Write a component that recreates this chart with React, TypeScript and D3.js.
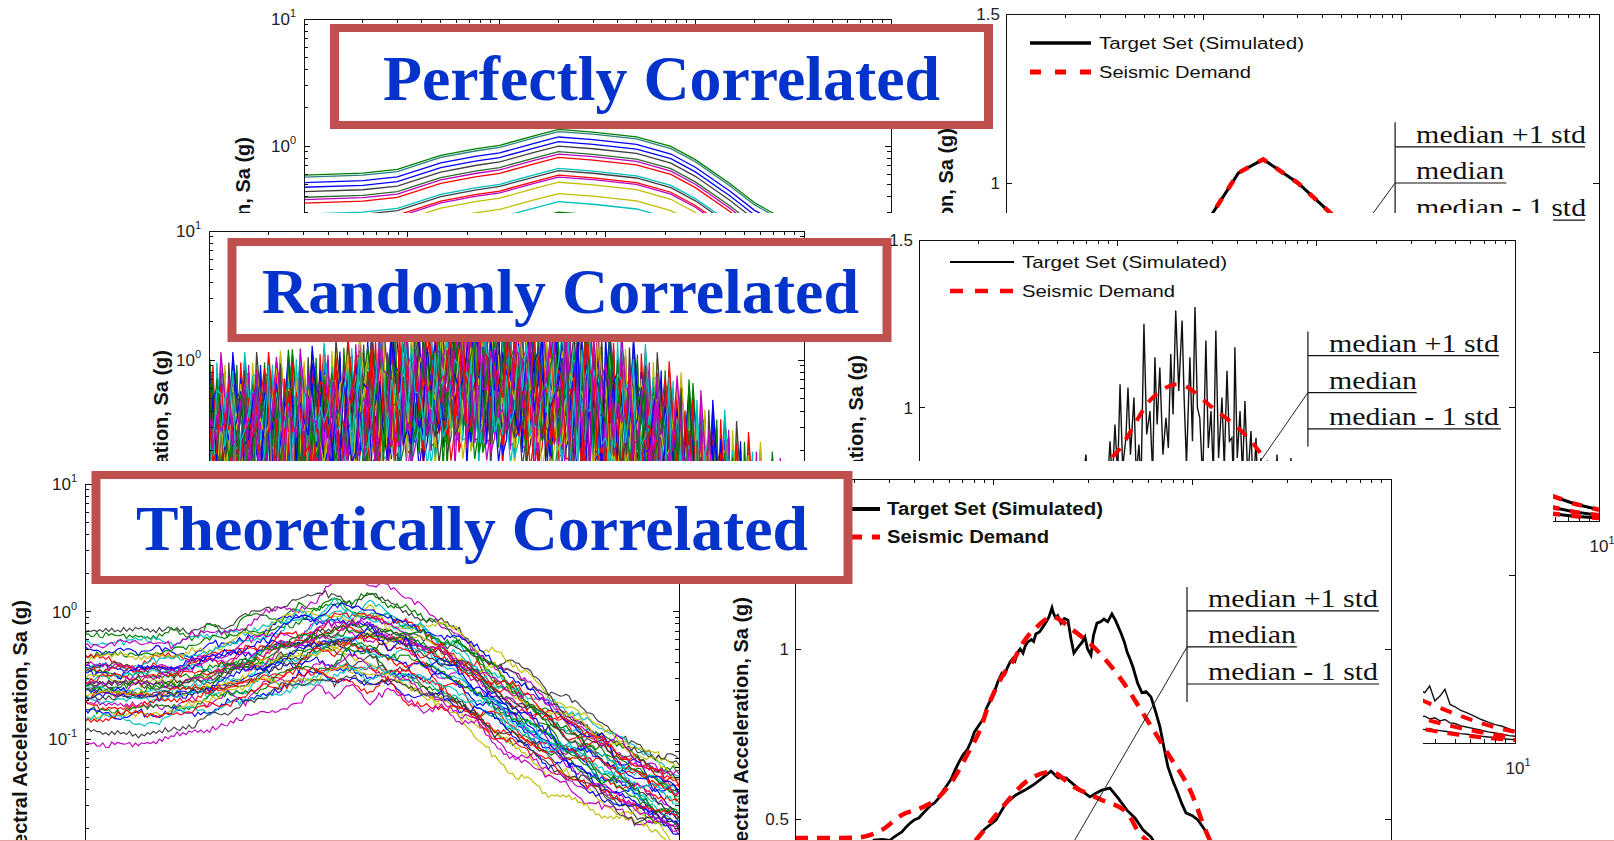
import React from 'react';
import * as d3 from 'd3';

const FONT_SANS = "'Liberation Sans', Arial, Helvetica, sans-serif";
const FONT_SERIF = "'Liberation Serif', 'Times New Roman', Times, serif";
const BOX_RED = '#C0504D';
const TITLE_BLUE = '#0433cc';
const MATLAB = ['#0000ff', '#008000', '#ff0000', '#00bfbf', '#bf00bf', '#bfbf00', '#404040'];

// ---------- data ----------
const PERIODS = [0.01, 0.02, 0.03, 0.05, 0.075, 0.1, 0.15, 0.2, 0.3, 0.5, 0.75, 1, 1.5, 2, 3, 4, 5, 7.5, 10];

// Perfectly correlated spectra (panel A): base shape and per-record scale factors
const PERFECT_BASE = [0.28, 0.29, 0.31, 0.4, 0.45, 0.48, 0.57, 0.64, 0.61, 0.56, 0.47, 0.37, 0.24, 0.17, 0.12, 0.085, 0.065, 0.04, 0.028];
const PERFECT_FACTORS = [2.11, 2.03, 1.84, 1.69, 1.56, 1.41, 1.35, 1.27, 1.04, 1.0, 0.92, 0.89, 0.81, 0.66, 0.57, 0.47, 0.41, 0.36, 0.31, 0.27, 0.23, 0.2, 0.17, 0.15];
const PERFECT_COLORS = ['#008000', '#2a7f7f', '#0000ff', '#0000ff', '#404040', '#2e6b2e', '#bf00bf', '#ff0000', '#00bfbf', '#404040', '#ff0000', '#bf00bf', '#bfbf00', '#bfbf00', '#00bfbf', '#008000', '#0000ff', '#ff0000', '#bf00bf', '#404040', '#00bfbf', '#bfbf00', '#008000', '#0000ff'];

// Seismic demand (median +/- 1 std)
const DEMAND_HI = [0.5, 0.5, 0.54, 0.67, 0.8, 0.87, 1.03, 1.07, 1.0, 0.88, 0.71, 0.57, 0.4, 0.27, 0.147, 0.11, 0.087, 0.051, 0.033];
const DEMAND_MED = [0.29, 0.29, 0.31, 0.38, 0.45, 0.49, 0.6, 0.64, 0.59, 0.5, 0.4, 0.32, 0.22, 0.15, 0.085, 0.062, 0.048, 0.027, 0.017];
const DEMAND_LO = [0.167, 0.167, 0.177, 0.215, 0.252, 0.277, 0.35, 0.384, 0.347, 0.286, 0.226, 0.179, 0.121, 0.082, 0.049, 0.035, 0.026, 0.0144, 0.0089];

// Randomly correlated spectra (panel B)
const RANDOM_MED = [0.28, 0.28, 0.3, 0.37, 0.45, 0.5, 0.6, 0.64, 0.6, 0.52, 0.45, 0.38, 0.27, 0.19, 0.1, 0.07, 0.05, 0.03, 0.022];
const RANDOM_SIG = [0.6, 0.6, 0.6, 0.6, 0.6, 0.6, 0.6, 0.6, 0.6, 0.62, 0.65, 0.68, 0.7, 0.72, 0.75, 0.75, 0.75, 0.75, 0.75];
const Z_TABLE = [0.31, -1.22, 0.84, -0.41, 1.63, -0.92, 0.12, 2.05, -1.71, 0.58, -0.23, 1.12, -1.38, 0.91, -0.64, 0.37, -2.18, 1.29, -0.08, 0.72, -1.03, 1.81, -0.52, 0.19, -1.49, 0.98, -0.31, 0.49, -0.83, 2.36, -1.12, 0.03, 1.41, -0.69, 0.77, -1.88, 0.28, 1.19, -0.44, -1.31, 0.63, 1.72, -0.95, 0.09, -0.18, 1.52, -1.62, 0.88, -0.47, 0.42, -1.01, 1.97, -0.12, -1.24, 0.69, 1.08, -0.79, 0.22, -2.41, 1.33, -0.27, 0.54, 1.86, -1.43, 0.01, -0.61, 1.02, -1.09, 0.57, -0.21, 1.58, -1.76, 0.33, 0.81, -0.38, 1.22, -0.88, 2.19, -1.27, 0.14, -0.72, 0.93, -0.06, -1.54, 1.38, 0.44, -0.99, 0.68, -1.97, 0.17, 1.13, -0.53, 0.51, -1.68, 1.77, -0.29, 0.04, 1.27, -0.81, 0.61, -1.17];

// Randomly correlated target set statistics (panel D)
const RAND_SIM_HI = [[0.05, 0.6], [0.055, 0.66], [0.06, 0.62], [0.0646, 0.7], [0.0692, 0.86], [0.073, 0.66], [0.0769, 0.74], [0.081, 0.68], [0.0853, 0.8], [0.088, 0.72], [0.0915, 0.9], [0.094, 0.78], [0.0969, 0.95], [0.1, 0.8], [0.1028, 1.07], [0.106, 0.82], [0.11, 0.91], [0.1127, 1.06], [0.116, 0.86], [0.1208, 1.03], [0.124, 0.8], [0.128, 0.89], [0.131, 0.76], [0.1356, 1.25], [0.14, 0.92], [0.1454, 0.99], [0.15, 0.8], [0.154, 1.15], [0.158, 0.95], [0.163, 1.12], [0.169, 0.86], [0.175, 0.97], [0.18, 0.88], [0.185, 1.16], [0.19, 0.98], [0.196, 1.29], [0.203, 1.05], [0.211, 1.26], [0.216, 1.03], [0.222, 0.83], [0.231, 1.15], [0.238, 0.9], [0.245, 1.3], [0.252, 1.0], [0.259, 0.97], [0.268, 0.78], [0.278, 1.2], [0.286, 0.88], [0.295, 0.99], [0.303, 0.8], [0.312, 1.23], [0.322, 0.85], [0.335, 1.03], [0.344, 0.82], [0.355, 1.11], [0.365, 0.9], [0.376, 0.91], [0.382, 0.78], [0.389, 1.18], [0.4, 0.85], [0.413, 0.99], [0.425, 0.8], [0.437, 1.02], [0.452, 0.79], [0.469, 0.93], [0.482, 0.74], [0.497, 0.91], [0.51, 0.7], [0.526, 0.85], [0.55, 0.66], [0.584, 0.8], [0.61, 0.62], [0.634, 0.86], [0.66, 0.6], [0.687, 0.76], [0.715, 0.58], [0.745, 0.85], [0.78, 0.55], [0.82, 0.6], [1.0, 0.5], [1.3, 0.42], [1.7, 0.33], [2.2, 0.25], [2.8, 0.2], [3.32, 0.16], [3.51, 0.15], [3.72, 0.17], [3.95, 0.125], [4.19, 0.14], [4.44, 0.16], [4.71, 0.115], [4.99, 0.108], [5.3, 0.098], [5.75, 0.09], [6.23, 0.08], [6.76, 0.07], [7.33, 0.062], [7.95, 0.055], [8.62, 0.05], [9.35, 0.042], [10, 0.037]];
const RAND_SIM_MED = [[3.32, 0.078], [3.51, 0.08], [3.72, 0.072], [3.95, 0.075], [4.19, 0.066], [4.44, 0.07], [4.71, 0.06], [4.99, 0.058], [5.3, 0.052], [5.75, 0.047], [6.23, 0.043], [6.76, 0.038], [7.33, 0.033], [7.95, 0.03], [8.62, 0.026], [9.35, 0.022], [10, 0.02]];
const RAND_SIM_LO = [[3.32, 0.042], [3.51, 0.04], [3.72, 0.043], [3.95, 0.038], [4.19, 0.037], [4.44, 0.035], [4.71, 0.033], [4.99, 0.031], [5.3, 0.028], [5.75, 0.026], [6.23, 0.023], [6.76, 0.02], [7.33, 0.018], [7.95, 0.016], [8.62, 0.013], [9.35, 0.011], [10, 0.01]];

// Theoretically correlated spectra (panel E): median and record epsilons at anchor periods
const THEO_MED = [0.27, 0.27, 0.28, 0.33, 0.4, 0.46, 0.56, 0.6, 0.56, 0.45, 0.34, 0.26, 0.17, 0.125, 0.085, 0.065, 0.052, 0.038, 0.03];
const THEO_ANCHOR_T = [0.01, 0.08, 0.25, 1.2, 10];
const THEO_EPS = [
  [1.82, 1.9, 1.5, 1.4, 1.6], [1.76, 1.6, 1.2, 0.5, 0.2], [1.63, 1.3, 0.9, 0.9, 1.2], [1.42, 1.5, 2.2, 1.2, 0.6],
  [1.27, 1.0, 0.6, -0.2, -0.6], [1.07, 1.2, 1.6, 0.8, 1.0], [0.93, 0.6, 0.2, 0.4, 0.9], [0.84, 1.1, 0.9, 1.5, 1.3],
  [0.79, 0.4, -0.2, -0.6, -0.2], [0.68, 0.9, 1.3, 0.6, 0.3], [0.63, 0.2, 0.5, 1.0, 1.5], [0.58, 0.8, 0.3, -0.4, -1.0],
  [0.52, 0.5, 1.0, 0.2, 0.5], [0.4, 0.0, -0.5, -1.0, -0.7], [0.34, 0.7, 1.2, 1.1, 0.4], [0.28, -0.2, 0.1, 0.7, 1.1],
  [0.21, 0.5, 0.7, -0.2, -0.5], [0.14, 0.3, -0.3, -0.8, 0.1], [0.07, -0.3, 0.4, 0.3, 0.8], [0.07, 0.4, 0.8, 0.1, -0.3],
  [0.0, -0.1, -0.6, -1.3, -0.9], [-0.08, 0.2, 0.6, 0.9, 0.2], [-0.08, -0.4, 0.0, -0.5, 0.6], [-0.15, 0.1, 0.3, 0.5, 1.2],
  [-0.24, -0.5, -0.9, -0.3, -0.8], [-0.32, 0.0, 0.5, 0.0, -0.4], [-0.32, -0.6, -0.2, 0.6, 0.9], [-0.41, -0.2, -0.8, -1.5, -1.1],
  [-0.5, -0.3, 0.2, -0.1, 0.3], [-0.5, -0.8, -1.2, -0.7, 0.0], [-0.6, -0.4, -0.1, 0.4, -0.2], [-0.7, -1.0, -0.7, -1.8, -1.2],
  [-0.81, -0.6, -1.0, -0.9, 0.4], [-0.93, -0.9, -0.4, -0.2, -0.6], [-1.05, -1.2, -1.5, -1.1, -0.9], [-1.18, -0.8, -0.9, -2.3, -1.3],
  [-1.24, -1.3, -1.1, -0.5, 0.2], [-1.31, -1.0, -1.6, -1.4, -0.5], [-1.71, -1.5, -1.2, -1.2, -1.0], [-2.15, -1.9, -1.8, -1.6, -0.8],
];
const THEO_COLORS = ['#404040', '#008000', '#00bfbf', '#bf00bf', '#0000ff', '#008000', '#ff0000', '#bfbf00', '#0000ff', '#00bfbf', '#404040', '#bf00bf', '#ff0000', '#008000', '#0000ff', '#bfbf00', '#00bfbf', '#ff0000', '#404040', '#bf00bf'];

// Theoretically correlated target set vs demand (panel F)
const F_DEM_HI = [[0.01, 0.444], [0.015, 0.444], [0.02, 0.445], [0.0274, 0.468], [0.0345, 0.512], [0.0441, 0.535], [0.0531, 0.565], [0.0639, 0.624], [0.0743, 0.694], [0.0853, 0.762], [0.0935, 0.829], [0.11, 0.918], [0.126, 0.968], [0.1434, 1.026], [0.165, 1.065], [0.197, 1.094], [0.25, 1.056], [0.33, 0.997], [0.44, 0.909], [0.58, 0.8], [0.75, 0.694], [0.99, 0.576], [1.18, 0.459], [1.5, 0.34], [2, 0.24], [3, 0.15], [5, 0.08], [10, 0.035]];
const F_SIM_HI = [[0.01, 0.4], [0.012, 0.402], [0.014, 0.395], [0.016, 0.398], [0.019, 0.405], [0.021, 0.41], [0.0235, 0.42], [0.025, 0.438], [0.0275, 0.44], [0.03, 0.437], [0.0315, 0.447], [0.033, 0.455], [0.0345, 0.462], [0.0362, 0.476], [0.038, 0.488], [0.04, 0.498], [0.042, 0.503], [0.044, 0.516], [0.046, 0.528], [0.0484, 0.541], [0.0505, 0.548], [0.053, 0.562], [0.0555, 0.582], [0.058, 0.598], [0.061, 0.617], [0.0639, 0.644], [0.067, 0.668], [0.07, 0.688], [0.0735, 0.703], [0.077, 0.728], [0.08, 0.756], [0.0835, 0.772], [0.0865, 0.785], [0.0894, 0.8], [0.092, 0.826], [0.095, 0.842], [0.0975, 0.853], [0.1, 0.868], [0.1052, 0.905], [0.1101, 0.929], [0.1135, 0.925], [0.117, 0.944], [0.121, 0.962], [0.125, 0.972], [0.128, 0.965], [0.132, 0.99], [0.136, 1.0], [0.1405, 0.988], [0.144, 1.008], [0.148, 1.02], [0.155, 1.028], [0.159, 1.022], [0.163, 1.044], [0.17, 1.05], [0.1771, 1.065], [0.185, 1.082], [0.19, 1.095], [0.1966, 1.121], [0.2, 1.105], [0.205, 1.092], [0.21, 1.098], [0.2182, 1.076], [0.227, 1.09], [0.2365, 1.085], [0.245, 1.03], [0.2535, 0.988], [0.262, 1.0], [0.27, 1.01], [0.279, 1.02], [0.2881, 1.035], [0.297, 1.0], [0.3088, 0.982], [0.318, 1.04], [0.3311, 1.076], [0.345, 1.08], [0.3591, 1.088], [0.375, 1.08], [0.3938, 1.103], [0.41, 1.085], [0.4372, 1.047], [0.455, 1.02], [0.47, 0.99], [0.486, 0.97], [0.5024, 0.947], [0.53, 0.9], [0.5577, 0.871], [0.585, 0.875], [0.6189, 0.859], [0.65, 0.82], [0.6871, 0.771], [0.72, 0.71], [0.7539, 0.653], [0.8, 0.61], [0.84, 0.58], [0.885, 0.545], [0.9286, 0.518], [1.0, 0.51], [1.067, 0.497], [1.15, 0.47], [1.227, 0.438], [1.4, 0.38], [2, 0.26], [3, 0.16], [5, 0.085], [10, 0.036]];
const F_DEM_MED = [[0.01, 0.27], [0.03, 0.29], [0.05, 0.32], [0.06, 0.36], [0.0814, 0.438], [0.1075, 0.526], [0.15, 0.615], [0.194, 0.638], [0.254, 0.594], [0.35, 0.556], [0.47, 0.518], [0.54, 0.459], [0.61, 0.43], [0.8, 0.35], [1, 0.3], [2, 0.15], [10, 0.02]];
const F_SIM_MED = [[0.01, 0.26], [0.03, 0.28], [0.05, 0.33], [0.06, 0.37], [0.07, 0.4], [0.0815, 0.438], [0.09, 0.47], [0.1027, 0.497], [0.115, 0.545], [0.1288, 0.57], [0.1438, 0.585], [0.158, 0.6], [0.171, 0.615], [0.1943, 0.641], [0.2107, 0.621], [0.2311, 0.621], [0.2656, 0.591], [0.3052, 0.565], [0.3272, 0.576], [0.3508, 0.585], [0.3848, 0.591], [0.4223, 0.562], [0.4688, 0.526], [0.5142, 0.503], [0.5642, 0.468], [0.6189, 0.447], [0.656, 0.424], [0.75, 0.38], [1, 0.3], [2, 0.15], [10, 0.02]];

const ANNOT_TEXT = ['median +1 std', 'median', 'median - 1 std'];
const ANNOT_TEXT_LEN = [170, 88, 170];
const LEGEND_TEXT = ['Target Set (Simulated)', 'Seismic Demand'];
const YLABEL = 'Spectral Acceleration, Sa (g)';

// ---------- helpers ----------
function interpLogLog(T: number, xs: number[], ys: number[]) {
  if (T <= xs[0]) return ys[0];
  for (let j = 1; j < xs.length; j++) {
    if (T <= xs[j]) {
      const f = (Math.log(T) - Math.log(xs[j - 1])) / (Math.log(xs[j]) - Math.log(xs[j - 1]));
      return Math.exp(Math.log(ys[j - 1]) + f * (Math.log(ys[j]) - Math.log(ys[j - 1])));
    }
  }
  return ys[ys.length - 1];
}
function interpLinLogX(T: number, xs: number[], ys: number[]) {
  if (T <= xs[0]) return ys[0];
  for (let j = 1; j < xs.length; j++) {
    if (T <= xs[j]) {
      const f = (Math.log(T) - Math.log(xs[j - 1])) / (Math.log(xs[j]) - Math.log(xs[j - 1]));
      return ys[j - 1] + f * (ys[j] - ys[j - 1]);
    }
  }
  return ys[ys.length - 1];
}
function logTicks(domain: number[]) {
  const out: { v: number; major: boolean }[] = [];
  const e0 = Math.floor(Math.log10(domain[0]) + 1e-9);
  const e1 = Math.ceil(Math.log10(domain[1]) - 1e-9);
  for (let e = e0; e <= e1; e++) {
    for (let n = 1; n <= 9; n++) {
      const v = n * Math.pow(10, e);
      if (v >= domain[0] * 0.999 && v <= domain[1] * 1.001) out.push({ v, major: n === 1 });
    }
  }
  return out;
}
const near = (list: number[], v: number) => list.some((w) => Math.abs(w - v) < 1e-9 * Math.max(1, Math.abs(w)));

// ---------- scales ----------
const PER = [0.01, 10];
const xA = d3.scaleLog().domain(PER).range([304, 891]);
const yA = d3.scaleLog().domain([0.01, 10]).range([400, 19]);
const xA2 = d3.scaleLog().domain(PER).range([1006, 1599]);
const yA2 = d3.scaleLinear().domain([0, 1.5]).range([521, 14]);
const xB = d3.scaleLog().domain(PER).range([209, 804]);
const yB = d3.scaleLog().domain([0.01, 10]).range([618, 231]);
const xD = d3.scaleLog().domain(PER).range([919, 1515]);
const yD = d3.scaleLinear().domain([0, 1.5]).range([743, 240]);
const xE = d3.scaleLog().domain(PER).range([85, 679]);
const yE = d3.scaleLog().domain([0.01, 10]).range([866.5, 484]);
const xF = d3.scaleLog().domain(PER).range([795, 1391]);
const yF = d3.scaleLinear().domain([0, 1.5]).range([989, 479]);

function Axes({ x, y, yLog, yShow, xShow }: any) {
  const [l, r] = x.range();
  const [b, t] = y.range();
  const xt = logTicks(x.domain());
  const yt = yLog ? logTicks(y.domain()) : [0, 0.5, 1, 1.5].map((v) => ({ v, major: true }));
  const els: any[] = [];
  xt.forEach((d, i) => {
    const px = x(d.v);
    const len = d.major ? 6 : 4;
    els.push(<line key={'xt' + i} x1={px} x2={px} y1={t} y2={t + len} />);
    els.push(<line key={'xb' + i} x1={px} x2={px} y1={b} y2={b - len} />);
  });
  yt.forEach((d, i) => {
    const py = y(d.v);
    const len = d.major ? 6 : 4;
    els.push(<line key={'yl' + i} x1={l} x2={l + len} y1={py} y2={py} />);
    els.push(<line key={'yr' + i} x1={r} x2={r - len} y1={py} y2={py} />);
  });
  const labels: any[] = [];
  yt.filter((d) => d.major && near(yShow || [], d.v)).forEach((d, i) => {
    if (yLog) {
      const e = Math.round(Math.log10(d.v));
      labels.push(
        <text key={'yll' + i} x={l - 8} y={y(d.v) + 6} textAnchor="end">
          10<tspan dy={-8} fontSize={11}>{e}</tspan>
        </text>
      );
    } else {
      labels.push(
        <text key={'yll' + i} x={l - 6} y={y(d.v) + 6} textAnchor="end">{String(d.v)}</text>
      );
    }
  });
  xt.filter((d) => d.major && near(xShow || [], d.v)).forEach((d, i) => {
    const e = Math.round(Math.log10(d.v));
    labels.push(
      <text key={'xll' + i} x={x(d.v) + 3} y={b + 31} textAnchor="middle">
        10<tspan dy={-8} fontSize={11}>{e}</tspan>
      </text>
    );
  });
  return (
    <g>
      <g stroke="#111" strokeWidth={1} shapeRendering="crispEdges">
        <rect x={l} y={t} width={r - l} height={b - t} fill="none" />
        {els}
      </g>
      <g fontFamily={FONT_SANS} fontSize={17} fill="#222">{labels}</g>
    </g>
  );
}

function YTitle({ bx, endY }: any) {
  return (
    <text transform={`translate(${bx},${endY}) rotate(-90)`} textAnchor="end" fontFamily={FONT_SANS}
      fontWeight="bold" fontSize={20} fill="#111">{YLABEL}</text>
  );
}

function TitleBox({ x0, y0, x1, y1, text, tx, ty, tlen }: any) {
  return (
    <g>
      <rect x={x0} y={y0} width={x1 - x0} height={y1 - y0} fill={BOX_RED} />
      <rect x={x0 + 9} y={y0 + 8} width={x1 - x0 - 18} height={y1 - y0 - 16} fill="#fff" />
      <text x={tx} y={ty} textLength={tlen} lengthAdjust="spacingAndGlyphs" fontFamily={FONT_SERIF}
        fontWeight="bold" fontSize={63} fill={TITLE_BLUE}>{text}</text>
    </g>
  );
}

function Annotation({ x, y, bracketT, levels, ends, span, leaderTo }: any) {
  const bx = x(bracketT);
  return (
    <g>
      <g stroke="#111" strokeWidth={1.2}>
        <line x1={bx} x2={bx} y1={y(span[0])} y2={y(span[1])} />
        {levels.map((lv: number, j: number) => (
          <line key={j} x1={bx} x2={x(ends[j])} y1={y(lv)} y2={y(lv)} />
        ))}
      </g>
      <line x1={bx} y1={y(levels[1])} x2={x(leaderTo[0])} y2={y(leaderTo[1])} stroke="#222" strokeWidth={1} />
      <g fontFamily={FONT_SERIF} fontSize={26} fill="#111">
        {levels.map((lv: number, j: number) => (
          <text key={j} x={bx + 21} y={y(lv) - 4} textLength={ANNOT_TEXT_LEN[j]} lengthAdjust="spacingAndGlyphs">{ANNOT_TEXT[j]}</text>
        ))}
      </g>
    </g>
  );
}

function Legend({ s0, s1, r1, r2, tx, fs, bold, lens, bw, rw, dash }: any) {
  return (
    <g>
      <line x1={s0} x2={s1} y1={r1} y2={r1} stroke="#000" strokeWidth={bw} />
      <line x1={s0} x2={s1} y1={r2} y2={r2} stroke="#ff0000" strokeWidth={rw} strokeDasharray={dash} />
      <g fontFamily={FONT_SANS} fontSize={fs} fontWeight={bold ? 'bold' : 'normal'} fill="#111">
        <text x={tx} y={r1 + 6} textLength={lens[0]} lengthAdjust="spacingAndGlyphs">{LEGEND_TEXT[0]}</text>
        <text x={tx} y={r2 + 6} textLength={lens[1]} lengthAdjust="spacingAndGlyphs">{LEGEND_TEXT[1]}</text>
      </g>
    </g>
  );
}

function clipRect(id: string, x: any, y: any) {
  const [l, r] = x.range();
  const [b, t] = y.range();
  return (
    <clipPath id={id} key={id}>
      <rect x={l} y={t} width={r - l} height={b - t} />
    </clipPath>
  );
}

export default function App() {
  const L = Z_TABLE.length;

  // panel A curves
  const lineA = d3.line<any>().x((d) => xA(d[0])).y((d) => yA(d[1]));
  const aCurves = PERFECT_FACTORS.map((f) => PERIODS.map((T, j) => [T, PERFECT_BASE[j] * f]));

  // top-right (A2)
  const lineA2 = d3.line<any>().x((d) => xA2(d[0])).y((d) => yA2(d[1]));
  const demandSets = [DEMAND_HI, DEMAND_MED, DEMAND_LO].map((arr) => PERIODS.map((T, j) => [T, arr[j]]));

  // panel B
  const gridB = d3.range(151).map((k) => Math.pow(10, -2 + k * 0.02));
  const lineB = d3.line<any>().x((d) => xB(d[0])).y((d) => yB(d[1]));
  const bCurves = d3.range(40).map((i) =>
    gridB.map((T, k) => {
      const z = Z_TABLE[(k * 37 + i * 53 + 7) % L];
      return [T, interpLogLog(T, PERIODS, RANDOM_MED) * Math.exp(interpLinLogX(T, PERIODS, RANDOM_SIG) * z)];
    })
  );

  // panel D
  const lineDsmooth = d3.line<any>().x((d) => xD(d[0])).y((d) => yD(d[1])).curve(d3.curveMonotoneX);
  const lineD = d3.line<any>().x((d) => xD(d[0])).y((d) => yD(d[1]));

  // panel E
  const gridE = d3.range(201).map((k) => Math.pow(10, -2 + k * 0.015));
  const lineE = d3.line<any>().x((d) => xE(d[0])).y((d) => yE(d[1]));
  const eCurves = THEO_EPS.map((row, i) =>
    gridE.map((T, k) => {
      const eps = interpLinLogX(T, THEO_ANCHOR_T, row);
      const m = Math.floor(k / 6);
      const f = (k % 6) / 6;
      const za = Z_TABLE[(m * 17 + i * 23) % L];
      const zb = Z_TABLE[((m + 1) * 17 + i * 23) % L];
      const amp = 0.035 + 0.06 * Math.min(1, k / 70);
      const slow = (za + (zb - za) * f) * amp;
      const fast = Z_TABLE[(k * 29 + i * 41 + 3) % L] * 0.026;
      return [T, interpLogLog(T, PERIODS, THEO_MED) * Math.exp(0.5 * eps + slow + fast)];
    })
  );

  // panel F
  const lineF = d3.line<any>().x((d) => xF(d[0])).y((d) => yF(d[1]));
  const lineFsmooth = d3.line<any>().x((d) => xF(d[0])).y((d) => yF(d[1])).curve(d3.curveMonotoneX);

  return (
    <svg width={1614} height={841} style={{ position: 'absolute', left: 0, top: 0, background: '#fff' }}
      xmlns="http://www.w3.org/2000/svg">
      <defs>
        {clipRect('cA', xA, yA)}
        {clipRect('cA2', xA2, yA2)}
        {clipRect('cB', xB, yB)}
        {clipRect('cD', xD, yD)}
        {clipRect('cE', xE, yE)}
        {clipRect('cF', xF, yF)}
      </defs>

      {/* ================= Slide 1 ================= */}
      <rect x={0} y={0} width={1614} height={841} fill="#fff" />
      <g clipPath="url(#cA)" fill="none" strokeWidth={1.3}>
        {aCurves.map((c, i) => (
          <path key={i} d={lineA(c) || ''} stroke={PERFECT_COLORS[i % PERFECT_COLORS.length]} />
        ))}
      </g>
      <Axes x={xA} y={yA} yLog={true} yShow={[10, 1]} xShow={[]} />
      <YTitle bx={250} endY={137} />

      <g clipPath="url(#cA2)" fill="none">
        {demandSets.map((c, i) => (
          <path key={'b' + i} d={lineA2(c) || ''} stroke="#000" strokeWidth={3} />
        ))}
        {demandSets.map((c, i) => (
          <path key={'r' + i} d={lineA2(c) || ''} stroke="#ff0000" strokeWidth={4.5} strokeDasharray="10 11" />
        ))}
      </g>
      <Axes x={xA2} y={yA2} yLog={false} yShow={[1.5, 1]} xShow={[10]} />
      <YTitle bx={953} endY={128} />
      <Legend s0={1030} s1={1091} r1={43} r2={72} tx={1099} fs={16} lens={[205, 152]} bw={3.5} rw={5} dash="11 14" />
      <Annotation x={xA2} y={yA2} bracketT={0.93} levels={[1.107, 1.0, 0.89]} ends={[8.5, 3.4, 8.5]} span={[1.18, 0.837]} leaderTo={[0.34, 0.65]} />
      <TitleBox x0={330} y0={24} x1={993} y1={129} text="Perfectly Correlated" tx={383} ty={100} tlen={557} />

      {/* ================= Slide 2 ================= */}
      <rect x={130} y={213} width={1423} height={628} fill="#fff" />
      <g clipPath="url(#cB)" fill="none" strokeWidth={1.25}>
        {bCurves.map((c, i) => (
          <path key={i} d={lineB(c) || ''} stroke={MATLAB[i % MATLAB.length]} />
        ))}
      </g>
      <Axes x={xB} y={yB} yLog={true} yShow={[10, 1]} xShow={[]} />
      <YTitle bx={168} endY={350} />
      <TitleBox x0={227.5} y0={238} x1={891.5} y1={342} text="Randomly Correlated" tx={262} ty={313} tlen={597} />

      <g clipPath="url(#cD)" fill="none">
        <path d={lineD(RAND_SIM_HI) || ''} stroke="#111" strokeWidth={1.4} />
        <path d={lineD(RAND_SIM_MED) || ''} stroke="#111" strokeWidth={1.4} />
        <path d={lineD(RAND_SIM_LO) || ''} stroke="#111" strokeWidth={1.4} />
        {demandSets.map((c, i) => (
          <path key={'r' + i} d={lineDsmooth(c) || ''} stroke="#ff0000" strokeWidth={4} strokeDasharray="12 10" />
        ))}
      </g>
      <Axes x={xD} y={yD} yLog={false} yShow={[1.5, 1]} xShow={[10]} />
      <YTitle bx={863} endY={355} />
      <Legend s0={950} s1={1014} r1={262} r2={291} tx={1022} fs={16.5} lens={[205, 153]} bw={2.2} rw={4.5} dash="13 12" />
      <Annotation x={xD} y={yD} bracketT={0.907} levels={[1.155, 1.045, 0.937]} ends={[8.3, 3.2, 8.5]} span={[1.227, 0.884]} leaderTo={[0.327, 0.666]} />

      {/* ================= Slide 3 ================= */}
      <rect x={0} y={461} width={1423} height={380} fill="#fff" />
      <g clipPath="url(#cE)" fill="none" strokeWidth={1.15}>
        {eCurves.map((c, i) => (
          <path key={i} d={lineE(c) || ''} stroke={THEO_COLORS[i % THEO_COLORS.length]} />
        ))}
      </g>
      <Axes x={xE} y={yE} yLog={true} yShow={[10, 1, 0.1]} xShow={[]} />
      <YTitle bx={27} endY={600} />

      <g clipPath="url(#cF)" fill="none">
        <path d={lineF(F_SIM_HI) || ''} stroke="#000" strokeWidth={2.8} />
        <path d={lineF(F_SIM_MED) || ''} stroke="#000" strokeWidth={2.8} />
        <path d={lineFsmooth(F_DEM_HI) || ''} stroke="#ff0000" strokeWidth={4.5} strokeDasharray="13 9" />
        <path d={lineFsmooth(F_DEM_MED) || ''} stroke="#ff0000" strokeWidth={4.5} strokeDasharray="13 9" />
      </g>
      <Axes x={xF} y={yF} yLog={false} yShow={[1, 0.5]} xShow={[]} />
      <YTitle bx={748} endY={597} />
      <Legend s0={828} s1={880} r1={509} r2={537} tx={887} fs={17.5} bold={true} lens={[216, 162]} bw={3.8} rw={5} dash="12 10" />
      <Annotation x={xF} y={yF} bracketT={0.94} levels={[1.112, 1.006, 0.897]} ends={[8.7, 3.36, 8.7]} span={[1.182, 0.844]} leaderTo={[0.171, 0.262]} />
      <TitleBox x0={91.5} y0={471} x1={852.5} y1={584} text="Theoretically Correlated" tx={136} ty={550} tlen={672} />

      <rect x={0} y={840} width={1614} height={1} fill="#e2a2a2" />
    </svg>
  );
}
